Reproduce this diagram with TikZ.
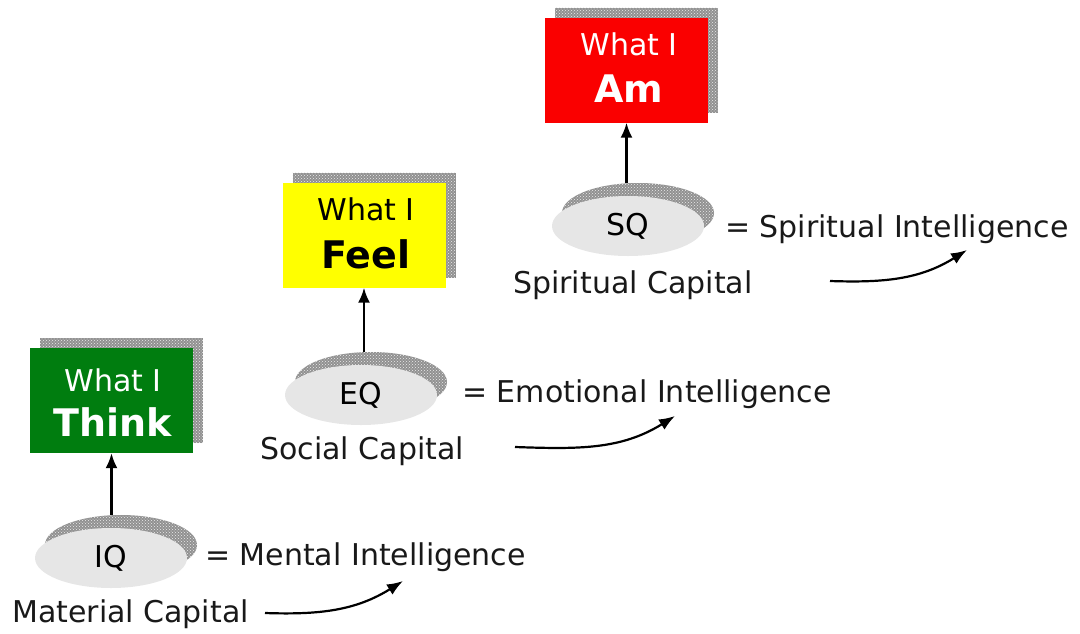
\documentclass[tikz,border=0pt]{standalone}
\usepackage{fontspec}
\setmainfont{DejaVu Sans}
\usetikzlibrary{arrows.meta,patterns,shapes.geometric}
\definecolor{boxgreen}{RGB}{0,125,15}
\definecolor{boxyellow}{RGB}{255,255,0}
\definecolor{boxred}{RGB}{250,0,0}
\definecolor{ellgray}{RGB}{230,230,230}
\definecolor{shadegray}{RGB}{145,145,145}
\begin{document}
\begin{tikzpicture}[x=1pt,y=-1pt,
  txt/.style={font=\fontsize{30}{36}\selectfont, inner sep=0pt, anchor=base west, text=black!90},
  small/.style={font=\fontsize{30}{36}\selectfont, inner sep=0pt, anchor=base},
  big/.style={font=\fontsize{38}{44}\selectfont\bfseries, inner sep=0pt, anchor=base},
  qbox/.style={rectangle, draw=none, minimum width=163pt, minimum height=105pt, inner sep=0pt},
  boxshade/.style={rectangle, fill=shadegray, minimum width=163pt, minimum height=105pt, inner sep=0pt,
    postaction={pattern=crosshatch dots, pattern color=white!85!gray}},
  ell/.style={ellipse, fill=ellgray, minimum width=152pt, minimum height=60pt, inner sep=0pt, font=\fontsize{30}{36}\selectfont},
  ellshade/.style={ellipse, fill=shadegray, minimum width=152pt, minimum height=60pt, inner sep=0pt,
    postaction={pattern=crosshatch dots, pattern color=white!85!gray}},
  conn/.style={line width=2.2pt, -{Latex[length=15pt,width=12pt]}},
  curv/.style={line width=2.2pt, -{Latex[length=16pt,width=12pt]}}
]
\useasboundingbox (0,0) rectangle (1080,633);

% ---------- shadows ----------
\node[boxshade] (thinksh) at (121.5,390.5) {};
\node[boxshade] (feelsh)  at (374,225) {};
\node[boxshade] (amsh)    at (636.5,60) {};
\node[ellshade] (iqsh) at (121,545) {};
\node[ellshade] (eqsh) at (371,382) {};
\node[ellshade] (sqsh) at (638,213) {};

% ---------- boxes ----------
\node[qbox, fill=boxgreen]  (think) at (111.5,400.5) {};
\node[qbox, fill=boxyellow] (feel)  at (364,235) {};
\node[qbox, fill=boxred]    (am)    at (626.5,70) {};

\node[small, text=white] (t1) at (113,391) {What I};
\node[big, text=white]   (t2) at (113,436) {Think};
\node[small, text=black] (f1) at (366,220) {What I};
\node[big, text=black]   (f2) at (366,268) {Feel};
\node[small, text=white] (a1) at (629,55) {What I};
\node[big, text=white]   (a2) at (629,102) {Am};

% ---------- ellipses ----------
\node[ell] (iq) at (111,558) {IQ};
\node[ell] (eq) at (361,395) {EQ};
\node[ell] (sq) at (628,226) {SQ};

% ---------- vertical arrows ----------
\draw[conn] (iqsh.north -| think.south) -- (think.south);
\draw[conn] (eqsh.north -| feel.south) -- (feel.south);
\draw[conn] (sqsh.north -| am.south) -- (am.south);

% ---------- labels ----------
\node[txt] (mi) at (205,565) {= Mental Intelligence};
\node[txt] (mc) at (12,622) {Material Capital};
\node[txt] (ei) at (462,402) {= Emotional Intelligence};
\node[txt] (sc) at (260,459) {Social Capital};
\node[txt] (si) at (725,237) {= Spiritual Intelligence};
\node[txt] (spc) at (513,293) {Spiritual Capital};

% ---------- curved arrows ----------
\coordinate (c1s) at (265,613);
\coordinate (c1e) at (403,581);
\coordinate (c2s) at (515,447);
\coordinate (c2e) at (675,416);
\coordinate (c3s) at (830,281);
\coordinate (c3e) at (967,250);
\draw[curv] (c1s) to[out=-2,in=212] (c1e);
\draw[curv] (c2s) to[out=-2,in=212] (c2e);
\draw[curv] (c3s) to[out=-2,in=212] (c3e);
\end{tikzpicture}
\end{document}
